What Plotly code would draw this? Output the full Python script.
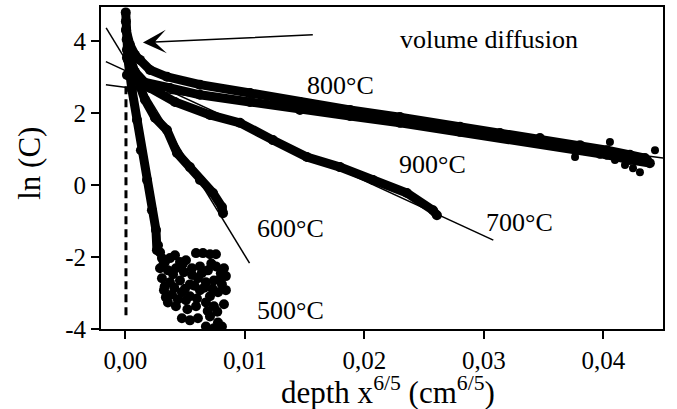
import plotly.graph_objects as go

FONT = "Liberation Serif"

# ---- data ----
x500 = [0.00004, 0.00005, 0.00008, 0.00012, 0.00023, 0.00056, 0.00098, 0.00131, 0.00182, 0.00223, 0.00257, 0.00265]
y500 = [4.80, 4.55, 4.30, 4.05, 3.48, 2.65, 1.81, 0.97, 0.14, -0.70, -1.25, -1.81]

cloud500_x = [0.00274, 0.00291, 0.00307, 0.00332, 0.00374, 0.00416, 0.00458, 0.00508, 0.00592, 0.00650, 0.00709, 0.00759,
              0.00291, 0.00357, 0.00424, 0.00491, 0.00558, 0.00625, 0.00692, 0.00759, 0.00826,
              0.00307, 0.00374, 0.00458, 0.00541, 0.00608, 0.00675, 0.00742, 0.00809, 0.00842,
              0.00324, 0.00391, 0.00474, 0.00541, 0.00625, 0.00709, 0.00776, 0.00842,
              0.00357, 0.00424, 0.00508, 0.00592, 0.00675, 0.00742, 0.00826,
              0.00474, 0.00541, 0.00608, 0.00709, 0.00776, 0.00675, 0.00742, 0.00809,
              0.00320, 0.00400, 0.00480, 0.00560, 0.00640, 0.00720, 0.00800,
              0.00330, 0.00410, 0.00500, 0.00580, 0.00660, 0.00730, 0.00790,
              0.00340, 0.00440, 0.00520, 0.00600, 0.00690, 0.00770]
cloud500_y = [-1.67, -1.87, -2.03, -2.14, -2.03, -1.95, -2.14, -2.09, -1.89, -1.89, -1.92, -1.92,
              -2.31, -2.37, -2.31, -2.42, -2.31, -2.26, -2.37, -2.26, -2.31,
              -2.59, -2.70, -2.65, -2.76, -2.59, -2.70, -2.65, -2.76, -2.53,
              -2.92, -3.04, -2.98, -3.09, -2.92, -3.09, -2.98, -2.92,
              -3.26, -3.37, -3.20, -3.37, -3.26, -3.37, -3.31,
              -3.70, -3.76, -3.70, -3.65, -3.82, -3.93, -3.98, -3.93,
              -2.20, -2.48, -2.20, -2.50, -2.45, -2.18, -2.45,
              -2.82, -2.85, -2.88, -2.80, -2.85, -2.88, -2.62,
              -3.12, -3.18, -3.45, -3.15, -3.50, -3.52]

x600 = [0.00014, 0.00081, 0.00165, 0.00249, 0.00349, 0.00433, 0.00541, 0.00625, 0.00734, 0.00809, 0.00818]
y600 = [3.76, 3.06, 2.37, 1.87, 1.53, 0.89, 0.50, 0.14, -0.22, -0.61, -0.78]

x700 = [0.00014, 0.00081, 0.00207, 0.00416, 0.00709, 0.00960, 0.01236, 0.01520, 0.01797, 0.02073, 0.02357, 0.02575, 0.02608]
y700 = [3.54, 3.15, 2.70, 2.31, 1.95, 1.73, 1.25, 0.78, 0.50, 0.14, -0.22, -0.70, -0.84]

x800 = [0.00006, 0.00039, 0.00081, 0.00123, 0.00207, 0.00349, 0.00625, 0.01044, 0.01462, 0.01881, 0.02299,
        0.02801, 0.03136, 0.03470, 0.03805, 0.04031, 0.04223, 0.04349]
y800 = [4.32, 3.90, 3.62, 3.48, 3.20, 3.01, 2.79, 2.56, 2.31, 2.09, 1.89,
        1.62, 1.45, 1.31, 1.11, 0.97, 0.84, 0.75]

x900 = [0.00014, 0.00081, 0.00148, 0.00374, 0.00625, 0.01044, 0.01462, 0.01881, 0.02299, 0.02801,
        0.03136, 0.03470, 0.03805, 0.04031, 0.04223, 0.04390]
y900 = [3.06, 2.98, 2.87, 2.70, 2.51, 2.31, 2.09, 1.92, 1.73, 1.48,
        1.34, 1.17, 1.00, 0.84, 0.70, 0.61]

tail_x = [0.03972, 0.04098, 0.04182, 0.04249, 0.04307, 0.04374, 0.04433, 0.04056, 0.03889, 0.03764]
tail_y = [0.84, 0.70, 0.56, 0.47, 0.36, 0.70, 0.97, 1.20, 0.92, 0.78]

fit600_x = [-0.0016, 0.0104]
fit600_y = [4.37, -2.17]
fit700_x = [-0.00162, 0.0308]
fit700_y = [3.43, -1.53]
fit800_x = [-0.00162, 0.0450]
fit800_y = [2.79, 0.75]

dash_x = [0.00006, 0.00006]
dash_y = [2.75, -3.68]

xtick_vals = [0.0, 0.01, 0.02, 0.03, 0.04]
xtick_text = ["0,00", "0,01", "0,02", "0,03", "0,04"]
ytick_vals = [-4, -2, 0, 2, 4]
ytick_text = ["-4", "-2", "0", "2", "4"]

labels = ["800°C", "900°C", "700°C", "600°C", "500°C", "volume diffusion"]
label_x = [0.01799, 0.02575, 0.03295, 0.01386, 0.01386, 0.03044]
label_y = [2.76, 0.58, -1.03, -1.20, -3.48, 4.04]

arrow_tail = (0.01582, 4.18)
arrow_head = (0.00148, 3.96)

fig = go.Figure()

fig.add_trace(go.Scatter(x=dash_x, y=dash_y, mode="lines",
                         line=dict(color="black", width=3, dash="8px,5px"), hoverinfo="skip"))

for fx, fy in [(fit600_x, fit600_y), (fit700_x, fit700_y), (fit800_x, fit800_y)]:
    fig.add_trace(go.Scatter(x=fx, y=fy, mode="lines", line=dict(color="black", width=1.5), hoverinfo="skip"))

for bx, by in [(x500, y500), (x600, y600), (x700, y700), (x800, y800), (x900, y900)]:
    fig.add_trace(go.Scatter(x=bx, y=by, mode="lines+markers",
                             line=dict(color="black", width=9),
                             marker=dict(color="black", size=10)))

fig.add_trace(go.Scatter(x=cloud500_x, y=cloud500_y, mode="markers",
                         marker=dict(color="black", size=10, symbol="circle")))
fig.add_trace(go.Scatter(x=tail_x, y=tail_y, mode="markers",
                         marker=dict(color="black", size=8, symbol="circle")))

annotations = []
for t, lx, ly in zip(labels, label_x, label_y):
    annotations.append(dict(x=lx, y=ly, xref="x", yref="y", text=t, showarrow=False,
                            font=dict(family=FONT, size=26, color="black")))
annotations.append(dict(x=arrow_head[0], y=arrow_head[1], ax=arrow_tail[0], ay=arrow_tail[1],
                        xref="x", yref="y", axref="x", ayref="y", text="", showarrow=True,
                        arrowhead=3, arrowsize=2.6, arrowwidth=1.5, arrowcolor="black", standoff=0))
# axis titles
annotations.append(dict(x=0.51, y=-0.19, xref="paper", yref="paper", xanchor="center", yanchor="middle",
                        text="depth x<sup>6/5</sup> (cm<sup>6/5</sup>)", showarrow=False,
                        font=dict(family=FONT, size=31, color="black")))
annotations.append(dict(x=-0.127, y=0.515, xref="paper", yref="paper", xanchor="center", yanchor="middle",
                        text="ln (C)", textangle=-90, showarrow=False,
                        font=dict(family=FONT, size=31, color="black")))

fig.update_layout(
    width=677, height=409,
    margin=dict(l=101, r=14, t=7, b=80, autoexpand=False),
    paper_bgcolor="white", plot_bgcolor="white",
    showlegend=False,
    font=dict(family=FONT, size=24, color="black"),
    annotations=annotations,
)
fig.update_xaxes(range=[-0.00203, 0.045], tickvals=xtick_vals, ticktext=xtick_text,
                 ticks="outside", ticklen=8, tickwidth=1.5, tickcolor="black",
                 showline=True, linecolor="black", linewidth=2, mirror=True,
                 showgrid=False, zeroline=False, automargin=False,
                 tickfont=dict(family=FONT, size=25))
fig.update_yaxes(range=[-4, 4.95], tickvals=ytick_vals, ticktext=ytick_text,
                 ticks="outside", ticklen=8, tickwidth=1.5, tickcolor="black",
                 showline=True, linecolor="black", linewidth=2, mirror=True,
                 showgrid=False, zeroline=False, automargin=False,
                 tickfont=dict(family=FONT, size=25))

fig.write_html("out.html", config={"displayModeBar": False},
               post_script="document.body.style.margin='0';document.body.style.overflow='hidden';")
